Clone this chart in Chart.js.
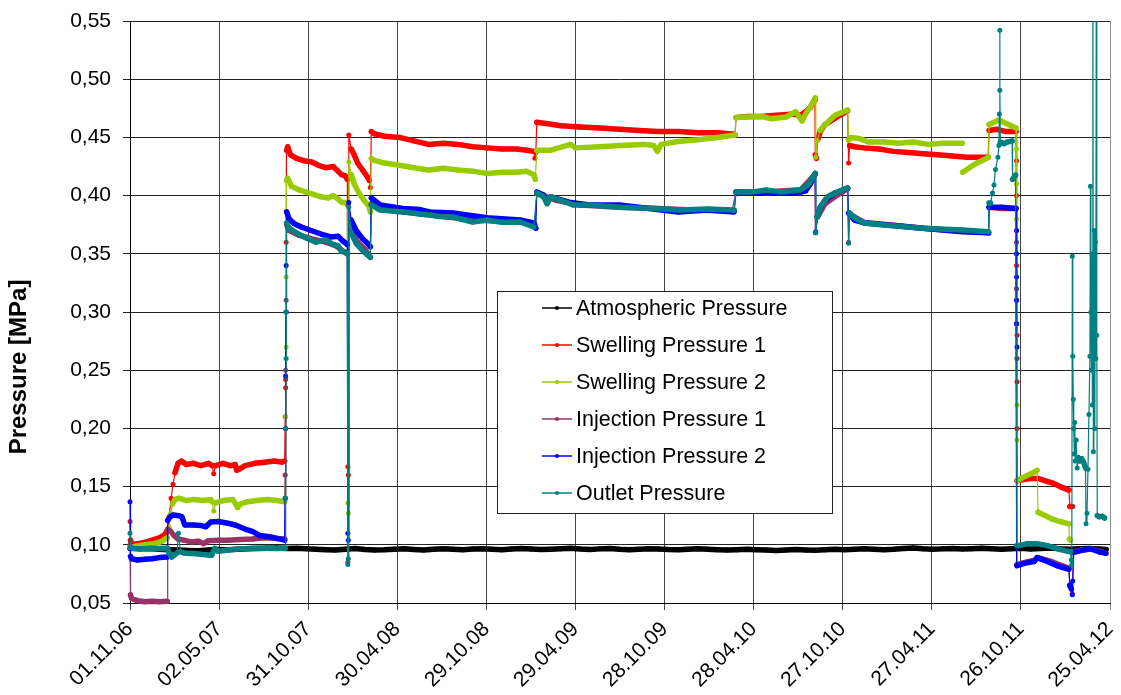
<!DOCTYPE html>
<html>
<head>
<meta charset="utf-8">
<title>Pressure</title>
<script src="https://cdn.jsdelivr.net/npm/chart.js@4.4.0/dist/chart.umd.min.js"></script>
<style>
  html, body { margin: 0; padding: 0; background: #fff; }
  #chart { display: block; }
</style>
</head>
<body>
<canvas id="chart" width="1121" height="695"></canvas>
<script>
// x values are days since 01.11.2006, y values in MPa
const startDate = Date.UTC(2006, 10, 1);
const dayStep = 182;
const lastDay = 2002;

const seriesNames = [
  "Atmospheric Pressure",
  "Swelling Pressure 1",
  "Swelling Pressure 2",
  "Injection Pressure 1",
  "Injection Pressure 2",
  "Outlet Pressure",
];

const atmospheric = [
  [0,0.0970],[20,0.0965],[40,0.0968],[60,0.0962],[80,0.0958],[100,0.0955],[120,0.0952],[140,0.0948],
  [160,0.0955],[180,0.0960],[200,0.0958],[220,0.0962],[240,0.0965],[260,0.0968],[280,0.0970],[300,0.0972],
  [320,0.0968],[340,0.0970],[360,0.0966],[380,0.0962],[400,0.0958],[420,0.0955],[440,0.0962],[460,0.0968],
  [480,0.0960],[500,0.0956],[520,0.0958],[540,0.0962],[560,0.0966],[580,0.0960],[600,0.0955],[620,0.0962],
  [640,0.0966],[660,0.0962],[680,0.0958],[700,0.0963],[720,0.0967],[740,0.0962],[760,0.0958],[780,0.0964],
  [800,0.0968],[820,0.0963],[840,0.0959],[860,0.0962],[880,0.0966],[900,0.0970],[920,0.0964],[940,0.0960],
  [960,0.0965],[980,0.0968],[1000,0.0962],[1020,0.0958],[1040,0.0962],[1060,0.0966],[1080,0.0963],[1100,0.0959],
  [1120,0.0957],[1140,0.0962],[1160,0.0966],[1180,0.0962],[1200,0.0958],[1220,0.0955],[1240,0.0958],[1260,0.0962],
  [1280,0.0958],[1300,0.0955],[1320,0.0952],[1340,0.0956],[1360,0.0960],[1380,0.0956],[1400,0.0953],[1420,0.0957],
  [1440,0.0961],[1460,0.0958],[1480,0.0962],[1500,0.0966],[1520,0.0962],[1540,0.0958],[1560,0.0962],[1580,0.0968],
  [1600,0.0972],[1620,0.0966],[1640,0.0962],[1660,0.0965],[1680,0.0968],[1700,0.0963],[1720,0.0966],[1740,0.0970],
  [1760,0.0966],[1780,0.0962],[1800,0.0966],[1820,0.0970],[1840,0.0964],[1860,0.0968],[1880,0.0972],[1900,0.0966],
  [1920,0.0962],[1940,0.0966],[1960,0.0968],[1980,0.0964],[1994,0.0960],
];

const swelling1 = [
  [0,0.120],[1,0.104],[3,0.100],[15,0.101],[30,0.102],[45,0.104],[60,0.106],[72,0.109],[78,0.114],[80,0.124],
  [84,0.140],[88,0.152],[92,0.162],[98,0.170],[105,0.172],[115,0.169],[130,0.170],[145,0.168],[160,0.170],
  [168,0.168],[171,0.161],[175,0.168],[190,0.170],[205,0.168],[215,0.169],[218,0.164],[223,0.165],[235,0.168],
  [255,0.170],[275,0.171],[295,0.172],[310,0.171],[316,0.172],[317,0.21],[318,0.235],[318,0.242],[319,0.30],
  [319,0.36],[320,0.439],[322,0.442],[328,0.435],[340,0.432],[355,0.430],[370,0.429],[385,0.426],[400,0.424],
  [415,0.425],[425,0.421],[432,0.418],[440,0.417],[444,0.414],[445,0.167],[446,0.160],[447,0.452],[452,0.440],
  [458,0.435],[465,0.428],[475,0.422],[485,0.416],[489,0.413],[491,0.407],[493,0.455],[500,0.453],[520,0.451],
  [550,0.450],[580,0.447],[610,0.444],[640,0.445],[670,0.444],[700,0.442],[730,0.441],[760,0.440],[790,0.440],
  [810,0.439],[825,0.438],[827,0.432],[829,0.437],[831,0.463],[850,0.462],[880,0.460],[920,0.459],[960,0.458],
  [1000,0.457],[1040,0.456],[1080,0.455],[1120,0.455],[1160,0.454],[1200,0.454],[1230,0.453],[1236,0.452],
  [1238,0.467],[1260,0.468],[1290,0.468],[1320,0.469],[1350,0.470],[1370,0.469],[1380,0.472],[1390,0.476],
  [1399,0.482],[1400,0.435],[1402,0.432],[1405,0.448],[1410,0.455],[1420,0.461],[1435,0.465],[1450,0.469],
  [1466,0.473],[1468,0.428],[1470,0.443],[1480,0.442],[1500,0.441],[1530,0.440],[1560,0.438],[1590,0.437],
  [1620,0.436],[1650,0.435],[1680,0.434],[1710,0.433],[1740,0.433],[1753,0.433],[1755,0.456],[1770,0.457],
  [1790,0.455],[1810,0.455],[1811,0.43],[1811,0.40],[1811,0.37],[1811,0.34],[1811,0.31],[1812,0.28],[1812,0.24],
  [1812,0.20],[1812,0.155],[1825,0.156],[1840,0.157],[1855,0.157],[1870,0.155],[1885,0.153],[1900,0.150],
  [1918,0.147],[1920,0.133],[1925,0.133],
];

const swelling2 = [
  [0,0.098],[15,0.099],[30,0.100],[50,0.101],[65,0.103],[76,0.106],[80,0.115],[83,0.127],[87,0.135],
  [92,0.139],[100,0.140],[115,0.138],[130,0.139],[150,0.138],[165,0.139],[168,0.137],[171,0.129],[175,0.136],
  [190,0.138],[210,0.139],[216,0.135],[220,0.132],[225,0.135],[240,0.137],[260,0.138],[280,0.139],[300,0.138],
  [316,0.137],[317,0.16],[318,0.21],[319,0.27],[319,0.33],[320,0.413],[322,0.415],[330,0.408],[345,0.405],
  [360,0.403],[375,0.401],[390,0.399],[405,0.398],[415,0.400],[425,0.397],[433,0.394],[440,0.394],[444,0.392],
  [445,0.136],[446,0.127],[447,0.429],[452,0.418],[458,0.410],[468,0.402],[478,0.396],[488,0.391],[491,0.386],
  [493,0.432],[500,0.430],[520,0.428],[550,0.426],[580,0.424],[610,0.422],[640,0.4235],[670,0.422],[700,0.421],
  [730,0.419],[760,0.420],[790,0.420],[810,0.421],[825,0.418],[828,0.414],[831,0.439],[860,0.439],[900,0.444],
  [910,0.441],[960,0.442],[1000,0.443],[1050,0.444],[1070,0.443],[1077,0.438],[1085,0.444],[1120,0.4465],
  [1160,0.448],[1200,0.450],[1236,0.452],[1238,0.467],[1260,0.4675],[1290,0.468],[1310,0.466],[1340,0.4675],
  [1360,0.472],[1373,0.464],[1380,0.470],[1392,0.478],[1400,0.484],[1401,0.433],[1404,0.447],[1410,0.456],
  [1420,0.4607],[1440,0.469],[1466,0.4735],[1468,0.448],[1472,0.450],[1490,0.449],[1510,0.446],[1540,0.446],
  [1570,0.445],[1600,0.446],[1630,0.444],[1660,0.445],[1690,0.445],[1700,0.445],[1700,null],[1701,0.420],
  [1715,0.424],[1730,0.428],[1745,0.431],[1754,0.433],[1755,0.461],[1765,0.463],[1775,0.465],[1790,0.462],
  [1800,0.460],[1810,0.458],[1811,0.44],[1811,0.41],[1811,0.38],[1811,0.35],[1811,0.32],[1812,0.29],
  [1812,0.26],[1812,0.22],[1812,0.19],[1813,0.155],[1820,0.157],[1830,0.159],[1840,0.161],[1850,0.163],
  [1853,0.164],[1855,0.128],[1870,0.125],[1885,0.122],[1900,0.120],[1918,0.118],[1919,0.105],[1921,0.104],
];

const injection1 = [
  [0,0.100],[1,0.057],[3,0.054],[15,0.052],[30,0.051],[45,0.0515],[60,0.051],[76,0.0515],[77,0.113],
  [82,0.112],[90,0.108],[98,0.105],[110,0.104],[125,0.1025],[140,0.103],[150,0.101],[160,0.1035],[180,0.104],
  [200,0.104],[225,0.1045],[250,0.105],[275,0.106],[300,0.1055],[316,0.105],[317,0.16],[318,0.25],[319,0.31],
  [320,0.375],[325,0.370],[345,0.366],[370,0.363],[400,0.360],[420,0.357],[440,0.351],[444,0.350],[445,0.085],
  [446,0.392],[452,0.370],[465,0.360],[480,0.354],[491,0.347],[493,0.393],[520,0.388],[560,0.386],[600,0.384],
  [650,0.3815],[700,0.379],[760,0.378],[800,0.378],[827,0.373],[831,0.402],[870,0.396],[920,0.392],[1000,0.390],
  [1080,0.389],[1160,0.3875],[1230,0.387],[1238,0.403],[1300,0.403],[1370,0.405],[1399,0.418],[1400,0.368],
  [1405,0.382],[1420,0.393],[1440,0.399],[1466,0.406],[1468,0.360],[1470,0.384],[1500,0.377],[1560,0.3745],
  [1620,0.372],[1700,0.3695],[1754,0.368],[1755,0.390],[1780,0.389],[1810,0.389],[1811,0.36],[1811,0.32],
  [1811,0.29],[1812,0.26],[1812,0.083],[1830,0.085],[1850,0.087],[1855,0.089],[1880,0.086],[1910,0.081],
  [1918,0.080],[1920,0.066],[1925,0.058],[1927,0.094],[1945,0.0955],[1965,0.0965],[1985,0.094],[1994,0.0925],
];

const injection2 = [
  [0,0.137],[1,0.090],[3,0.088],[15,0.087],[30,0.0875],[45,0.088],[60,0.089],[76,0.0895],[77,0.121],
  [82,0.124],[88,0.1256],[100,0.125],[106,0.124],[112,0.117],[130,0.117],[145,0.1165],[155,0.1155],[165,0.1195],
  [180,0.120],[200,0.1185],[215,0.117],[235,0.1135],[250,0.1115],[265,0.108],[285,0.107],[300,0.1055],
  [316,0.104],[317,0.14],[318,0.20],[318,0.245],[319,0.30],[319,0.34],[320,0.386],[325,0.380],[335,0.376],
  [350,0.373],[370,0.370],[390,0.367],[410,0.3645],[425,0.365],[435,0.361],[444,0.358],[445,0.110],[446,0.104],
  [447,0.394],[452,0.379],[462,0.370],[475,0.363],[485,0.359],[491,0.356],[493,0.398],[511,0.392],[558,0.389],
  [592,0.388],[613,0.386],[660,0.385],[729,0.381],[797,0.379],[825,0.3765],[829,0.372],[831,0.403],[845,0.4005],
  [852,0.394],[860,0.399],[900,0.394],[940,0.392],[1000,0.392],[1060,0.389],[1120,0.386],[1180,0.3876],
  [1234,0.386],[1238,0.403],[1270,0.4022],[1300,0.403],[1340,0.4022],[1370,0.403],[1380,0.404],[1390,0.410],
  [1400,0.419],[1401,0.369],[1404,0.382],[1410,0.390],[1420,0.396],[1440,0.4022],[1466,0.4065],[1468,0.385],
  [1480,0.379],[1500,0.3765],[1550,0.3747],[1620,0.372],[1700,0.369],[1754,0.368],[1755,0.390],[1780,0.390],
  [1810,0.389],[1811,0.37],[1811,0.35],[1811,0.33],[1811,0.31],[1811,0.29],[1812,0.27],[1812,0.082],
  [1826,0.084],[1847,0.0857],[1853,0.089],[1874,0.0857],[1894,0.082],[1918,0.079],[1920,0.065],[1923,0.062],
  [1925,0.057],[1926,0.069],[1928,0.0935],[1942,0.095],[1962,0.0966],[1983,0.0935],[1993,0.093],
];

const outlet = [
  [0,0.110],[1,0.098],[5,0.097],[20,0.0965],[40,0.097],[60,0.0968],[76,0.097],[77,0.0965],[80,0.093],
  [85,0.0895],[90,0.091],[96,0.093],[99,0.110],[103,0.094],[110,0.093],[125,0.0925],[140,0.092],[160,0.0912],
  [167,0.091],[173,0.097],[180,0.0945],[200,0.0955],[225,0.0965],[250,0.097],[280,0.097],[300,0.0968],
  [316,0.097],[317,0.097],[318,0.14],[318,0.20],[319,0.26],[319,0.30],[320,0.3765],[325,0.372],[340,0.368],
  [360,0.3636],[380,0.360],[400,0.362],[415,0.358],[425,0.357],[432,0.352],[440,0.3516],[444,0.350],[445,0.083],
  [446,0.088],[447,0.390],[452,0.368],[462,0.359],[475,0.353],[485,0.349],[491,0.347],[493,0.392],[511,0.3876],
  [558,0.386],[592,0.3842],[613,0.3833],[633,0.382],[660,0.3816],[700,0.3773],[729,0.379],[760,0.377],
  [797,0.3773],[825,0.373],[831,0.4022],[845,0.399],[852,0.393],[860,0.399],[905,0.392],[940,0.392],[1001,0.390],
  [1070,0.389],[1124,0.3876],[1180,0.3885],[1234,0.3876],[1238,0.403],[1270,0.403],[1300,0.4048],[1330,0.403],
  [1369,0.4048],[1385,0.409],[1400,0.419],[1401,0.368],[1404,0.3816],[1410,0.390],[1425,0.399],[1440,0.4022],
  [1466,0.4065],[1468,0.359],[1470,0.385],[1480,0.381],[1500,0.3765],[1540,0.3747],[1620,0.372],[1700,0.3704],
  [1754,0.369],[1755,0.3937],[1758,0.3937],[1762,0.4022],[1765,0.409],[1768,0.4225],[1773,0.433],[1775,0.443],
  [1776,0.470],[1777,0.542],[1777,0.4905],[1778,0.446],[1785,0.4445],[1792,0.446],[1802,0.447],[1803,0.414],
  [1809,0.4175],[1812,0.0993],[1816,0.0993],[1833,0.101],[1853,0.101],[1874,0.0993],[1901,0.0959],[1918,0.0942],
  [1921,0.094],[1923,0.087],[1924,0.083],[1925,0.348],[1926,0.262],[1927,0.225],[1928,0.200],[1929,0.178],
  [1930,0.205],[1931,0.172],[1933,0.190],[1935,0.166],[1937,0.175],[1940,0.172],[1944,0.174],[1948,0.171],
  [1952,0.166],[1953,0.118],[1955,0.127],[1957,0.165],[1959,0.212],[1961,0.262],[1962,0.408],[1963,0.300],
  [1964,0.250],[1965,0.350],[1966,0.220],[1967,0.62],[1968,0.180],[1969,0.300],[1970,0.370],[1971,0.200],
  [1972,0.360],[1973,0.260],[1974,0.62],[1975,0.280],[1976,0.125],[1980,0.124],[1986,0.1245],[1991,0.123],
];

const seriesData = [atmospheric, swelling1, swelling2, injection1, injection2, outlet];
const seriesColors = ["#000000", "#ff0000", "#99cc00", "#993366", "#0000ff", "#008080"];

const FONT = '"Liberation Sans", Arial, sans-serif';

function pad2(n) {
  return (n < 10 ? "0" : "") + n;
}

function dayLabel(v) {
  const d = new Date(startDate + v * 86400000);
  return pad2(d.getUTCDate()) + "." + pad2(d.getUTCMonth() + 1) + "." + pad2(d.getUTCFullYear() % 100);
}

// thin line on the steep jumps, thick where the logger points pile up
function segWidth(ctx) {
  const dx = Math.abs(ctx.p1.x - ctx.p0.x);
  const dy = Math.abs(ctx.p1.y - ctx.p0.y);
  return dy > 2.5 * dx + 3 ? 1.2 : 5.5;
}

const datasets = seriesData.map((data, i) => ({
  label: seriesNames[i],
  data: data,
  borderColor: seriesColors[i],
  backgroundColor: seriesColors[i],
  borderWidth: 1.2,
  borderCapStyle: "round",
  borderJoinStyle: "round",
  pointRadius: 2.5,
  pointBorderWidth: 0,
  pointBackgroundColor: seriesColors[i],
  tension: 0,
  spanGaps: false,
  order: seriesData.length - i,
  clip: { left: 4, right: 4, top: 0, bottom: 4 },
  segment: { borderWidth: segWidth },
}));

// y title and the boxed legend inside the plot
const overlay = {
  id: "overlay",
  afterDraw(chart) {
    const ctx = chart.ctx;
    ctx.save();
    ctx.translate(19, 367);
    ctx.rotate(-Math.PI / 2);
    ctx.font = "bold 24px " + FONT;
    ctx.fillStyle = "#000";
    ctx.textAlign = "center";
    ctx.textBaseline = "middle";
    ctx.fillText("Pressure [MPa]", 0, 0);
    ctx.restore();

    const box = { x: 497, y: 291, w: 335, h: 222 };
    ctx.save();
    ctx.fillStyle = "#fff";
    ctx.fillRect(box.x, box.y, box.w, box.h);
    ctx.strokeStyle = "#222";
    ctx.lineWidth = 1;
    ctx.strokeRect(box.x + 0.5, box.y + 0.5, box.w, box.h);
    ctx.font = "21.5px " + FONT;
    ctx.textAlign = "left";
    ctx.textBaseline = "middle";
    chart.data.datasets.forEach((ds, i) => {
      const y = 308 + i * 37;
      ctx.strokeStyle = ds.borderColor;
      ctx.lineWidth = 1.5;
      ctx.beginPath();
      ctx.moveTo(542, y);
      ctx.lineTo(572, y);
      ctx.stroke();
      ctx.fillStyle = ds.borderColor;
      ctx.beginPath();
      ctx.arc(557, y, 2, 0, Math.PI * 2);
      ctx.fill();
      ctx.fillStyle = "#000";
      ctx.fillText(ds.label, 576, y + 1);
    });
    ctx.restore();
  },
};

new Chart(document.getElementById("chart"), {
  type: "line",
  data: { datasets: datasets },
  options: {
    responsive: false,
    devicePixelRatio: 1,
    animation: false,
    events: [],
    layout: { padding: { top: 21, right: 11, left: 0, bottom: 0 } },
    plugins: { legend: { display: false }, tooltip: { enabled: false } },
    scales: {
      x: {
        type: "linear",
        min: 0,
        max: lastDay,
        grid: {
          color: (c) => (c.tick && c.tick.value === lastDay ? "#909090" : "#444"),
          tickLength: 7,
        },
        border: { color: "#000" },
        ticks: {
          stepSize: dayStep,
          autoSkip: false,
          minRotation: 45,
          maxRotation: 45,
          padding: 7,
          color: "#000",
          font: { family: FONT, size: 21 },
          callback: (v) => dayLabel(v),
        },
        afterFit: (s) => {
          s.height = 92;
          s.paddingLeft = 0;
          s.paddingRight = 0;
        },
      },
      y: {
        min: 0.05,
        max: 0.55,
        grid: { color: "#222", tickLength: 7 },
        border: { color: "#000" },
        ticks: {
          stepSize: 0.05,
          padding: 12,
          color: "#000",
          font: { family: FONT, size: 21 },
          callback: (v) => v.toFixed(2).replace(".", ","),
        },
        afterFit: (s) => {
          s.width = 130;
          s.paddingTop = 0;
          s.paddingBottom = 0;
        },
      },
    },
  },
  plugins: [overlay],
});
</script>
</body>
</html>
